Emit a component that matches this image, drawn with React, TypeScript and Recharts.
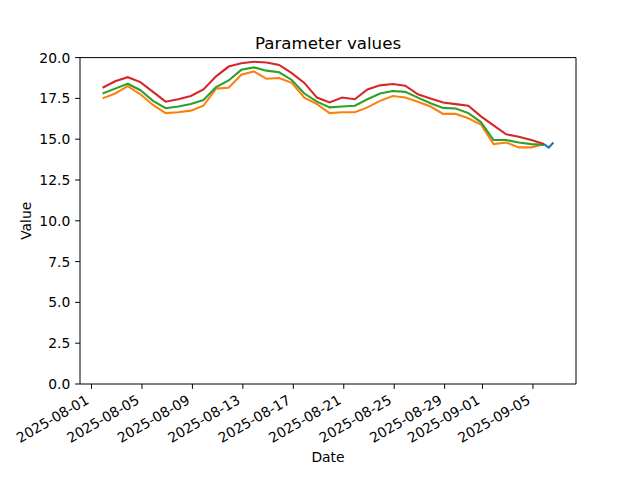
import React from "react";
import { LineChart, Line, XAxis, YAxis, ReferenceLine } from "recharts";

const dates = [
  "2025-08-01T21:00", "2025-08-02T21:00", "2025-08-03T21:00", "2025-08-04T21:00",
  "2025-08-05T21:00", "2025-08-06T21:00", "2025-08-07T21:00", "2025-08-08T21:00",
  "2025-08-09T21:00", "2025-08-10T21:00", "2025-08-11T21:00", "2025-08-12T21:00",
  "2025-08-13T21:00", "2025-08-14T21:00", "2025-08-15T21:00", "2025-08-16T21:00",
  "2025-08-17T21:00", "2025-08-18T21:00", "2025-08-19T21:00", "2025-08-20T21:00",
  "2025-08-21T21:00", "2025-08-22T21:00", "2025-08-23T21:00", "2025-08-24T21:00",
  "2025-08-25T21:00", "2025-08-26T21:00", "2025-08-27T21:00", "2025-08-28T21:00",
  "2025-08-29T21:00", "2025-08-30T21:00", "2025-08-31T21:00", "2025-09-01T21:00",
  "2025-09-02T21:00", "2025-09-03T21:00", "2025-09-04T21:00", "2025-09-05T21:00",
];

const red = [18.15, 18.55, 18.8, 18.5, 17.9, 17.3, 17.45, 17.65, 18.05, 18.85, 19.45, 19.65,
  19.75, 19.7, 19.55, 19.05, 18.45, 17.55, 17.25, 17.55, 17.45, 18.05, 18.3, 18.38,
  18.28, 17.75, 17.5, 17.25, 17.15, 17.05, 16.4, 15.85, 15.3, 15.15, 14.95, 14.7];

const green = [17.8, 18.1, 18.4, 18.0, 17.35, 16.9, 17.0, 17.15, 17.4, 18.2, 18.6, 19.25,
  19.4, 19.2, 19.1, 18.63, 17.8, 17.3, 16.95, 17.0, 17.05, 17.45, 17.8, 17.95,
  17.9, 17.55, 17.2, 16.92, 16.88, 16.6, 16.05, 14.95, 14.95, 14.8, 14.7, 14.65];

const orange = [17.5, 17.8, 18.25, 17.75, 17.1, 16.6, 16.65, 16.75, 17.05, 18.1, 18.15, 18.95,
  19.15, 18.7, 18.75, 18.45, 17.55, 17.15, 16.6, 16.65, 16.65, 16.95, 17.35, 17.65,
  17.55, 17.3, 17.0, 16.55, 16.55, 16.28, 15.9, 14.7, 14.8, 14.5, 14.5, 14.7];

const blueDates = ["2025-09-05T21:00", "2025-09-06T06:00", "2025-09-06T15:00"];
const blue = [14.7, 14.48, 14.8];

const xTickLabels = [
  "2025-08-01", "2025-08-05", "2025-08-09", "2025-08-13", "2025-08-17",
  "2025-08-21", "2025-08-25", "2025-08-29", "2025-09-01", "2025-09-05",
];
const yTicks = [0, 2.5, 5, 7.5, 10, 12.5, 15, 17.5, 20];

const DAY = 86400000;
const T0 = Date.UTC(2025, 7, 1);
const toDay = (s: string) => (Date.parse(s + ":00Z") - T0) / DAY;
const dayLabel = (d: number) => new Date(T0 + Math.round(d * DAY)).toISOString().slice(0, 10);

const mkData = (ds: string[], vs: number[]) => ds.map((d, i) => ({ x: toDay(d), v: vs[i] }));
const redData = mkData(dates, red);
const greenData = mkData(dates, green);
const orangeData = mkData(dates, orange);
const blueData = mkData(blueDates, blue);

const allX = [...redData, ...blueData].map((p) => p.x);
const xMin = Math.min(...allX);
const xMax = Math.max(...allX);
const pad = (xMax - xMin) * 0.05;
const xDomain = [xMin - pad, xMax + pad];
const xTicks = xTickLabels.map((s) => toDay(s + "T00:00"));

const FONT = "DejaVu Sans";
const FS = 13.89;

const DateTick = (props: any) => {
  const { x, y, payload } = props;
  const h = 0.995 * FS;
  return (
    <g transform={`translate(${x - 0.5 * h},${y})`}>
      <text
        x={0}
        y={0}
        dy={0.76 * FS}
        textAnchor="end"
        transform="rotate(-30)"
        fontFamily={FONT}
        fontSize={FS}
        fill="#000"
      >
        {dayLabel(payload.value)}
      </text>
    </g>
  );
};

export default function App() {
  return (
    <div style={{ position: "absolute", left: 0, top: 0, width: 640, height: 480, background: "#fff" }}>
      <LineChart
        width={640}
        height={480}
        margin={{ top: 57.6, right: 64, left: 0, bottom: 0 }}
      >
        <XAxis
          dataKey="x"
          type="number"
          domain={xDomain}
          ticks={xTicks}
          allowDataOverflow
          tick={<DateTick />}
          tickSize={4.86}
          tickMargin={4.86}
          height={96}
          stroke="#000"
          interval={0}
        />
        <YAxis
          type="number"
          domain={[0, 20]}
          ticks={yTicks}
          tickFormatter={(v: number) => v.toFixed(1)}
          width={80}
          tickSize={4.86}
          tickMargin={4.86}
          stroke="#000"
          tick={{ fill: "#000", fontFamily: FONT, fontSize: FS }}
          interval={0}
        />
        <Line data={blueData} dataKey="v" stroke="#1f77b4" strokeWidth={2.08} dot={false} isAnimationActive={false} />
        <Line data={orangeData} dataKey="v" stroke="#ff7f0e" strokeWidth={2.08} dot={false} isAnimationActive={false} />
        <Line data={greenData} dataKey="v" stroke="#2ca02c" strokeWidth={2.08} dot={false} isAnimationActive={false} />
        <Line data={redData} dataKey="v" stroke="#d62728" strokeWidth={2.08} dot={false} isAnimationActive={false} />
        <ReferenceLine y={20} stroke="#000" strokeWidth={1} ifOverflow="extendDomain" />
        <ReferenceLine x={xDomain[1]} stroke="#000" strokeWidth={1} ifOverflow="extendDomain" />
      </LineChart>
      <svg
        width={640}
        height={480}
        style={{ position: "absolute", left: 0, top: 0, pointerEvents: "none" }}
      >
        <text x={328} y={49.3} textAnchor="middle" fontFamily={FONT} fontSize={16.67} fill="#000">
          Parameter values
        </text>
        <text x={328} y={462.2} textAnchor="middle" fontFamily={FONT} fontSize={FS} fill="#000">
          Date
        </text>
        <text
          transform="translate(30.6,220.8) rotate(-90)"
          textAnchor="middle"
          fontFamily={FONT}
          fontSize={FS}
          fill="#000"
        >
          Value
        </text>
      </svg>
    </div>
  );
}
